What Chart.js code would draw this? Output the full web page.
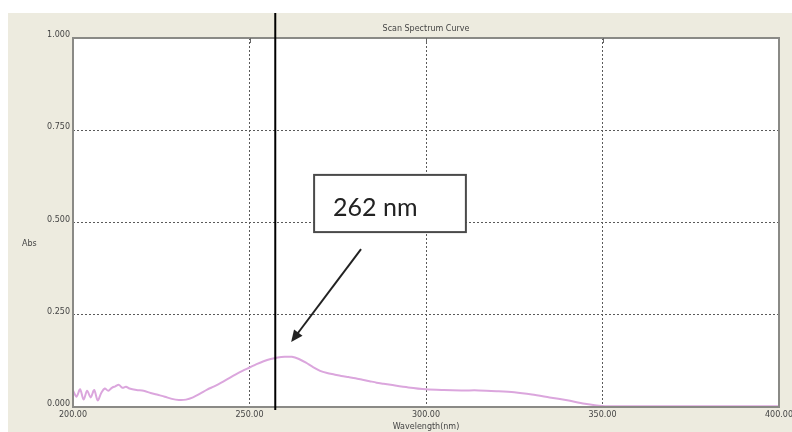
<!DOCTYPE html>
<html>
<head>
<meta charset="utf-8">
<script src="https://cdn.jsdelivr.net/npm/chart.js@4"></script>
<style>
  html, body { margin: 0; padding: 0; background: #fff; }
  #wrap { width: 792px; height: 432px; }
</style>
</head>
<body>
<div id="wrap"><canvas id="spectrum"></canvas></div>
<script>
// scan data (nm / Abs)
const wavelengths = [
  200, 201, 202, 203, 204, 205, 206, 207, 208, 209, 210, 211, 212, 213, 214, 215, 216,
  218, 220, 222, 224, 226, 228, 230, 232, 234, 236, 238, 240, 242, 244, 246, 248,
  250, 252, 254, 256, 258, 260, 262, 264, 266, 268, 270, 272, 274, 276, 278, 280,
  282, 284, 286, 288, 290, 295, 300, 305, 310, 315, 320, 325, 330, 335, 340, 345,
  350, 355, 360, 365, 370, 375, 380, 385, 390, 395, 400
];
const absorbance = [
  0.045, 0.028, 0.048, 0.020, 0.044, 0.026, 0.046, 0.018, 0.038, 0.050, 0.044, 0.052, 0.056, 0.060, 0.052, 0.055, 0.050,
  0.046, 0.044, 0.038, 0.033, 0.028, 0.022, 0.019, 0.020, 0.026, 0.036, 0.047, 0.056, 0.066, 0.077, 0.088, 0.098,
  0.107, 0.116, 0.124, 0.130, 0.134, 0.136, 0.136, 0.130, 0.120, 0.108, 0.098, 0.092, 0.088, 0.084, 0.081, 0.078,
  0.074, 0.070, 0.066, 0.063, 0.060, 0.053, 0.048, 0.046, 0.045, 0.045, 0.043, 0.040, 0.034, 0.026, 0.018, 0.009,
  0.003, 0.002, 0.002, 0.002, 0.002, 0.002, 0.002, 0.002, 0.002, 0.002, 0.002
];
const xTicks = [200, 250, 300, 350, 400];
const yTicks = [0, 0.25, 0.5, 0.75, 1.0];

// cursor and callout, in data units
const cursorNm = 257.3;
const calloutText = "262 nm";
const calloutBox = { x1: 268.3, x2: 311.3, y1: 0.629, y2: 0.474 };
const arrowFrom = { x: 281.6, y: 0.428 };
const arrowTo = { x: 261.8, y: 0.176 };

const panel = {
  id: "panel",
  beforeDraw(chart) {
    const { ctx, chartArea: a } = chart;
    ctx.save();
    ctx.fillStyle = "#ffffff";
    ctx.fillRect(0, 0, chart.width, chart.height);
    ctx.fillStyle = "#edebdf";
    ctx.fillRect(8, 13, chart.width - 8, chart.height - 13);
    ctx.fillStyle = "#ffffff";
    ctx.fillRect(a.left, a.top, a.right - a.left, a.bottom - a.top);
    // horizontal axis label
    ctx.fillStyle = "#444";
    ctx.font = "8px 'DejaVu Sans'";
    ctx.textAlign = "left";
    ctx.textBaseline = "middle";
    ctx.fillText("Abs", 22, (a.top + a.bottom) / 2 + 21);
    ctx.restore();
  },
  afterDraw(chart) {
    const { ctx, chartArea: a, scales: { x, y } } = chart;
    ctx.save();
    // plot frame
    ctx.strokeStyle = "#8a8a86";
    ctx.lineWidth = 2;
    ctx.strokeRect(a.left, a.top, a.right - a.left, a.bottom - a.top);
    // small ticks on the top edge
    ctx.lineWidth = 1;
    ctx.strokeStyle = "#666";
    xTicks.slice(1, -1).forEach(v => {
      const px = Math.round(x.getPixelForValue(v)) + 0.5;
      ctx.beginPath();
      ctx.moveTo(px, a.top);
      ctx.lineTo(px, a.top + 5);
      ctx.stroke();
    });
    // cursor line
    const cx = x.getPixelForValue(cursorNm);
    ctx.strokeStyle = "#000";
    ctx.lineWidth = 2;
    ctx.beginPath();
    ctx.moveTo(cx, 13);
    ctx.lineTo(cx, a.bottom + 3);
    ctx.stroke();
    // callout box
    const bx1 = x.getPixelForValue(calloutBox.x1), bx2 = x.getPixelForValue(calloutBox.x2);
    const by1 = y.getPixelForValue(calloutBox.y1), by2 = y.getPixelForValue(calloutBox.y2);
    ctx.fillStyle = "#fff";
    ctx.fillRect(bx1, by1, bx2 - bx1, by2 - by1);
    ctx.strokeStyle = "#4a4a4a";
    ctx.lineWidth = 2;
    ctx.strokeRect(bx1, by1, bx2 - bx1, by2 - by1);
    ctx.fillStyle = "#222";
    ctx.font = "25px Lato";
    ctx.textAlign = "left";
    ctx.textBaseline = "alphabetic";
    ctx.fillText(calloutText, bx1 + 19, by1 + 41);
    // arrow
    const ax1 = x.getPixelForValue(arrowFrom.x), ay1 = y.getPixelForValue(arrowFrom.y);
    const ax2 = x.getPixelForValue(arrowTo.x), ay2 = y.getPixelForValue(arrowTo.y);
    const ang = Math.atan2(ay2 - ay1, ax2 - ax1);
    const head = 13, spread = 0.42;
    ctx.strokeStyle = "#222";
    ctx.lineWidth = 2;
    ctx.beginPath();
    ctx.moveTo(ax1, ay1);
    ctx.lineTo(ax2 - Math.cos(ang) * head * 0.8, ay2 - Math.sin(ang) * head * 0.8);
    ctx.stroke();
    ctx.fillStyle = "#222";
    ctx.beginPath();
    ctx.moveTo(ax2, ay2);
    ctx.lineTo(ax2 - head * Math.cos(ang - spread), ay2 - head * Math.sin(ang - spread));
    ctx.lineTo(ax2 - head * Math.cos(ang + spread), ay2 - head * Math.sin(ang + spread));
    ctx.closePath();
    ctx.fill();
    ctx.restore();
  }
};

const dotted = ctx => {
  const v = ctx.tick ? ctx.tick.value : null;
  return (v === ctx.scale.min || v === ctx.scale.max) ? "rgba(0,0,0,0)" : "#5a5a5a";
};

new Chart(document.getElementById("spectrum"), {
  type: "line",
  data: {
    datasets: [{
      data: wavelengths.map((w, i) => ({ x: w, y: absorbance[i] })),
      borderColor: "#dba6dd",
      borderWidth: 2,
      pointRadius: 0,
      tension: 0.3,
      fill: false
    }]
  },
  options: {
    responsive: true,
    maintainAspectRatio: false,
    animation: false,
    layout: { padding: { left: 0, right: 13, top: 0, bottom: 0 } },
    plugins: {
      legend: { display: false },
      tooltip: { enabled: false },
      title: {
        display: true,
        text: "Scan Spectrum Curve",
        fullSize: false,
        color: "#444",
        font: { family: "'DejaVu Sans'", size: 8, weight: "normal" },
        padding: { top: 24, bottom: 4.4 }
      }
    },
    scales: {
      x: {
        type: "linear",
        min: 200,
        max: 400,
        afterBuildTicks: s => { s.ticks = xTicks.map(v => ({ value: v })); },
        afterFit: s => { s.height = 25; s.paddingLeft = 0; s.paddingRight = 0; },
        border: { display: false, dash: [2, 2] },
        grid: { color: dotted, lineWidth: 1, drawTicks: false },
        ticks: {
          padding: 3,
          color: "#444",
          font: { family: "'DejaVu Sans'", size: 8 },
          maxRotation: 0,
          callback: v => Number(v).toFixed(2)
        },
        title: {
          display: true,
          text: "Wavelength(nm)",
          color: "#444",
          font: { family: "'DejaVu Sans'", size: 8 },
          padding: { top: 0, bottom: 0 }
        }
      },
      y: {
        min: 0,
        max: 1,
        afterBuildTicks: s => { s.ticks = yTicks.map(v => ({ value: v })); },
        afterFit: s => { s.width = 73; s.paddingTop = 0; s.paddingBottom = 0; },
        border: { display: false, dash: [2, 2] },
        grid: { color: dotted, lineWidth: 1, drawTicks: false },
        ticks: {
          padding: 3,
          labelOffset: -3,
          color: "#444",
          font: { family: "'DejaVu Sans'", size: 8 },
          callback: v => Number(v).toFixed(3)
        }
      }
    }
  },
  plugins: [panel]
});
</script>
</body>
</html>
